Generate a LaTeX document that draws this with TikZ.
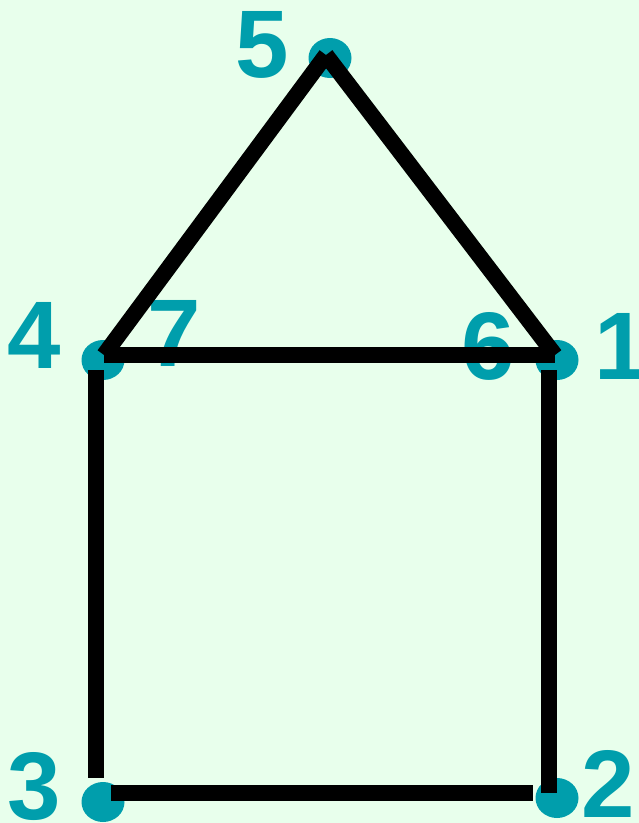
\documentclass[tikz,border=0pt]{standalone}
\usepackage{fontspec}
\setmainfont{Liberation Sans}
\usepackage{xcolor}
\usetikzlibrary{shapes.geometric}
\definecolor{housebg}{RGB}{232,255,236}
\definecolor{spotteal}{RGB}{0,158,172}

\begin{document}
\begin{tikzpicture}[
    x=1pt, y=-1pt,
    spot/.style={ellipse, fill=spotteal, minimum width=43pt, minimum height=40pt, inner sep=0pt},
    num/.style={text=spotteal, font=\fontsize{96}{96}\selectfont\bfseries, inner sep=0pt},
    houseline/.style={line width=16pt, black}
]
\fill[housebg] (0,0) rectangle (639,823);
\useasboundingbox (0,0) rectangle (639,823);
% spots at the corners
\node[spot] (s1) at (557,360) {};
\node[spot] (s2) at (557,798) {};
\node[spot] (s3) at (103,802) {};
\node[spot] (s4) at (103,360) {};
\node[spot] (s5) at (330,58) {};
% numbers
\node[num] (n1) at (621,346) {1};
\node[num] (n2) at (608,784) {2};
\node[num] (n3) at (34,787) {3};
\node[num] (n4) at (34,335) {4};
\node[num] (n5) at (262,45) {5};
\node[num] (n6) at (488,346) {6};
\node[num] (n7) at (174,333) {7};
% ends of the strokes
\coordinate (r4) at (104,355);
\coordinate (r5) at (326,55);
\coordinate (r6) at (555,355);
\coordinate (wl1) at (96,370);
\coordinate (wl2) at (96,778);
\coordinate (wb1) at (111,793);
\coordinate (wb2) at (533,793);
\coordinate (wr1) at (549,370);
\coordinate (wr2) at (549,793);
% house outline
\draw[houseline] (r4) -- (r5);
\draw[houseline] (r5) -- (r6);
\draw[houseline] (r4) -- (r6);
\draw[houseline] (wl1) -- (wl2);
\draw[houseline] (wb1) -- (wb2);
\draw[houseline] (wr1) -- (wr2);
\end{tikzpicture}
\end{document}
